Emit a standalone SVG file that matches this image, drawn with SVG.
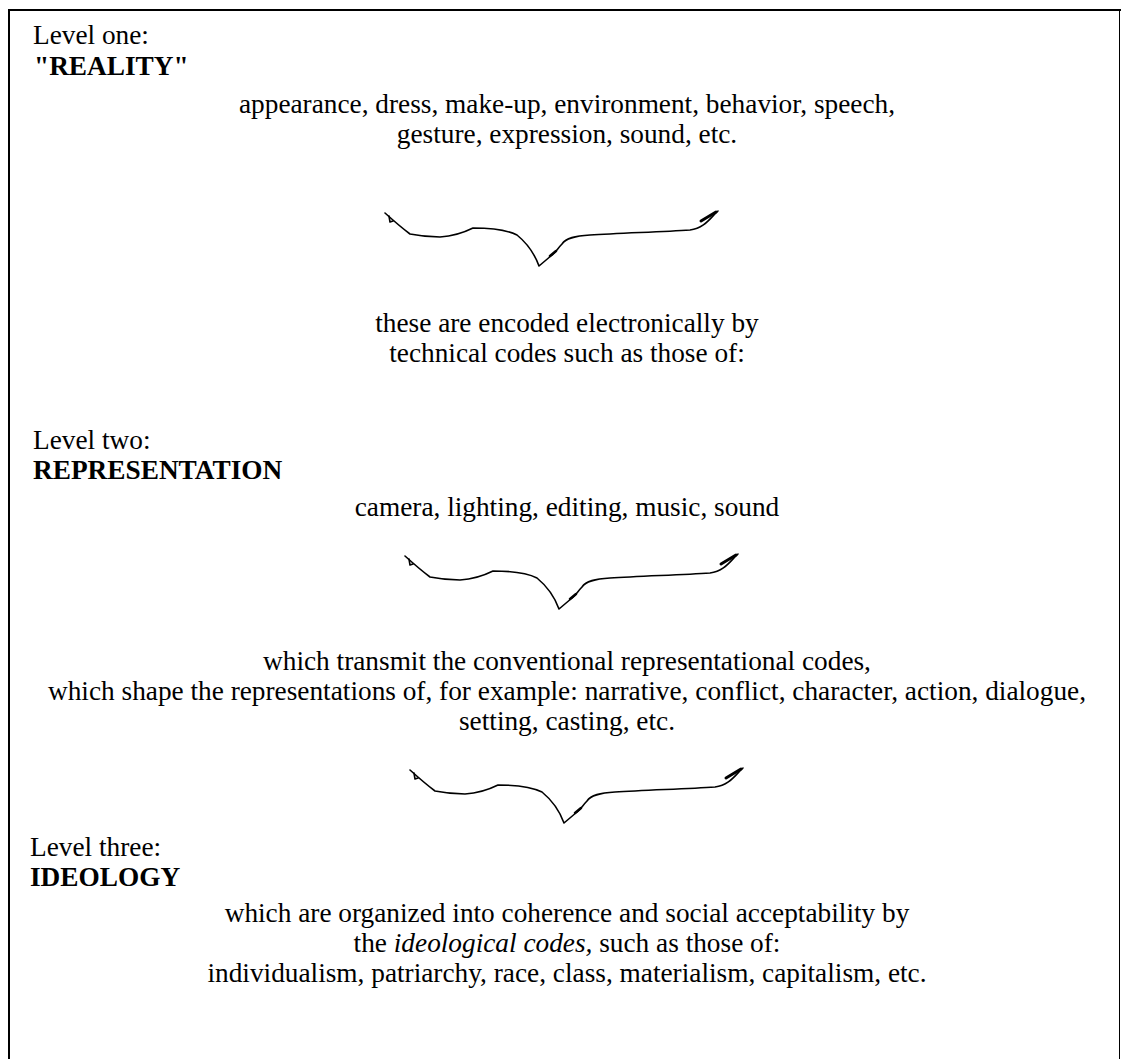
<svg xmlns="http://www.w3.org/2000/svg" width="1121" height="1059" viewBox="0 0 1121 1059">
<style>
.t{font-family:"Liberation Serif","Times New Roman",serif;font-size:27.3px;fill:#000}
.c{text-anchor:middle}
.b{font-weight:bold}
.br{fill:none;stroke:#000;stroke-width:1.6;stroke-linecap:round;stroke-linejoin:round}
.bd{fill:none;stroke:#000;stroke-width:2}
</style>
<defs>
<g id="brace">
<path class="br" d="M385,213 C395,222 402,228 410,234 C420,236 430,237 440,237 C455,236 465,232 473,228 C490,228 505,229 517,235 C528,244 535,255 539,266 L552,255 C556,252 558,248 562,244 C566,238 575,236 590,235 C620,233 660,232 690,230 C705,228 710,218 718,211"/>
<path class="br" d="M389,216 L390,222 L393,221"/>
<path class="br" d="M701,221 L716,212" style="stroke-width:3"/>
<path class="br" d="M550,256 L556,251" style="stroke-width:2.5"/>
</g>
</defs>
<g id="frame">
<path class="bd" d="M9,1059 L9,10 L1121,10"/>
<line x1="1119.5" y1="10" x2="1119.5" y2="1059" stroke="#000" stroke-width="1"/>
</g>
<g id="level-one">
<text class="t" x="33" y="44">Level one:</text>
<text class="t b" x="34" y="75">"REALITY"</text>
<text class="t c" x="567" y="113">appearance, dress, make-up, environment, behavior, speech,</text>
<text class="t c" x="567" y="143">gesture, expression, sound, etc.</text>
<text class="t c" x="567" y="332">these are encoded electronically by</text>
<text class="t c" x="567" y="362">technical codes such as those of:</text>
</g>
<g id="level-two">
<text class="t" x="33" y="449">Level two:</text>
<text class="t b" x="33" y="479">REPRESENTATION</text>
<text class="t c" x="567" y="516">camera, lighting, editing, music, sound</text>
<text class="t c" x="567" y="670">which transmit the conventional representational codes,</text>
<text class="t c" x="567" y="700">which shape the representations of, for example: narrative, conflict, character, action, dialogue,</text>
<text class="t c" x="567" y="730">setting, casting, etc.</text>
</g>
<g id="level-three">
<text class="t" x="30" y="856">Level three:</text>
<text class="t b" x="30" y="886">IDEOLOGY</text>
<text class="t c" x="567" y="922">which are organized into coherence and social acceptability by</text>
<text class="t c" x="567" y="952">the <tspan font-style="italic">ideological codes,</tspan> such as those of:</text>
<text class="t c" x="567" y="982">individualism, patriarchy, race, class, materialism, capitalism, etc.</text>
</g>
<g id="connectors">
<use href="#brace"/>
<use href="#brace" transform="translate(20,343)"/>
<use href="#brace" transform="translate(25,557)"/>
</g>
</svg>
